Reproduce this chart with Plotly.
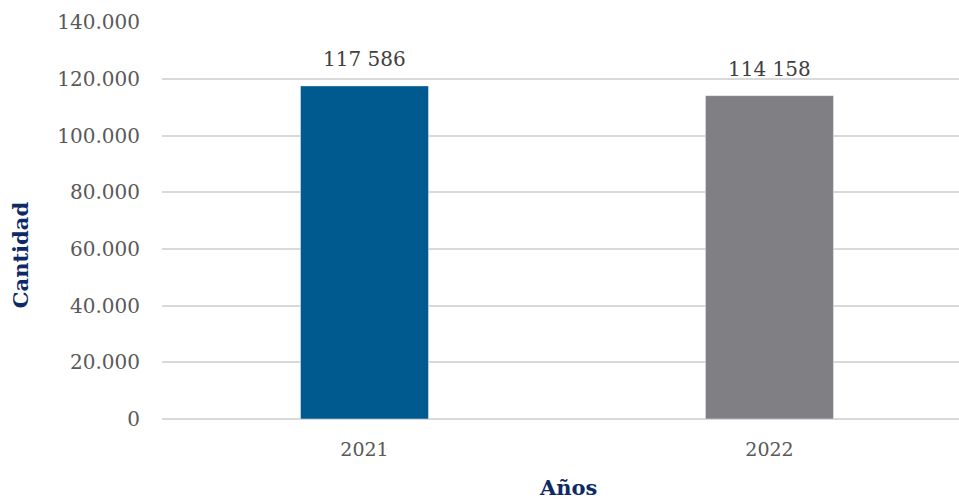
import plotly.graph_objects as go

years = ["2021", "2022"]
values = [117586, 114158]
labels = ["117 586", "114 158"]
colors = ["#005A8F", "#808084"]
y_ticks = [0, 20000, 40000, 60000, 80000, 100000, 120000, 140000]
y_tick_text = ["0", "20.000", "40.000", "60.000", "80.000", "100.000", "120.000", "140.000"]

font_family = "DejaVu Serif"

fig = go.Figure(go.Bar(
    x=years, y=values,
    marker=dict(color=colors), width=0.316,
    hoverinfo="x+y",
))

# data labels (category index positions on the category axis)
for i, (v, lab) in enumerate(zip(values, labels)):
    fig.add_annotation(
        xref="x", yref="y",
        x=i, y=v, text=lab, showarrow=False,
        yanchor="bottom", yshift=13,
        font=dict(family=font_family, size=20, color="#404040"),
    )

# axis titles
fig.add_annotation(
    xref="paper", yref="paper", x=-0.178, y=0.413, text="<b>Cantidad</b>",
    textangle=-90, showarrow=False, xanchor="center", yanchor="middle",
    font=dict(family=font_family, size=21, color="#0E2A66"),
)
fig.add_annotation(
    xref="paper", yref="paper", x=0.509, y=-0.173, text="<b>Años</b>",
    showarrow=False, xanchor="center", yanchor="middle",
    font=dict(family=font_family, size=21, color="#0E2A66"),
)

fig.update_layout(
    width=959, height=501,
    margin=dict(l=162, r=0, t=22, b=82),
    plot_bgcolor="white", paper_bgcolor="white",
    showlegend=False,
    font=dict(family=font_family, size=20, color="#595959"),
    xaxis=dict(
        type="category", range=[-0.5, 1.468],
        showgrid=False, showline=False, ticks="",
        ticklabelstandoff=17,
        tickfont=dict(family=font_family, size=19, color="#595959"),
    ),
    yaxis=dict(
        range=[0, 140150], tickvals=y_ticks, ticktext=y_tick_text,
        showgrid=True, gridcolor="#D9D9D9", gridwidth=1.5,
        zeroline=True, zerolinecolor="#D9D9D9", zerolinewidth=1.5,
        showline=False, ticks="", ticklen=0,
        ticklabelstandoff=21,
        tickfont=dict(family=font_family, size=20, color="#595959"),
    ),
)

fig.write_html("out.html", config={"displayModeBar": False},
               post_script="document.body.style.margin='0px';")
